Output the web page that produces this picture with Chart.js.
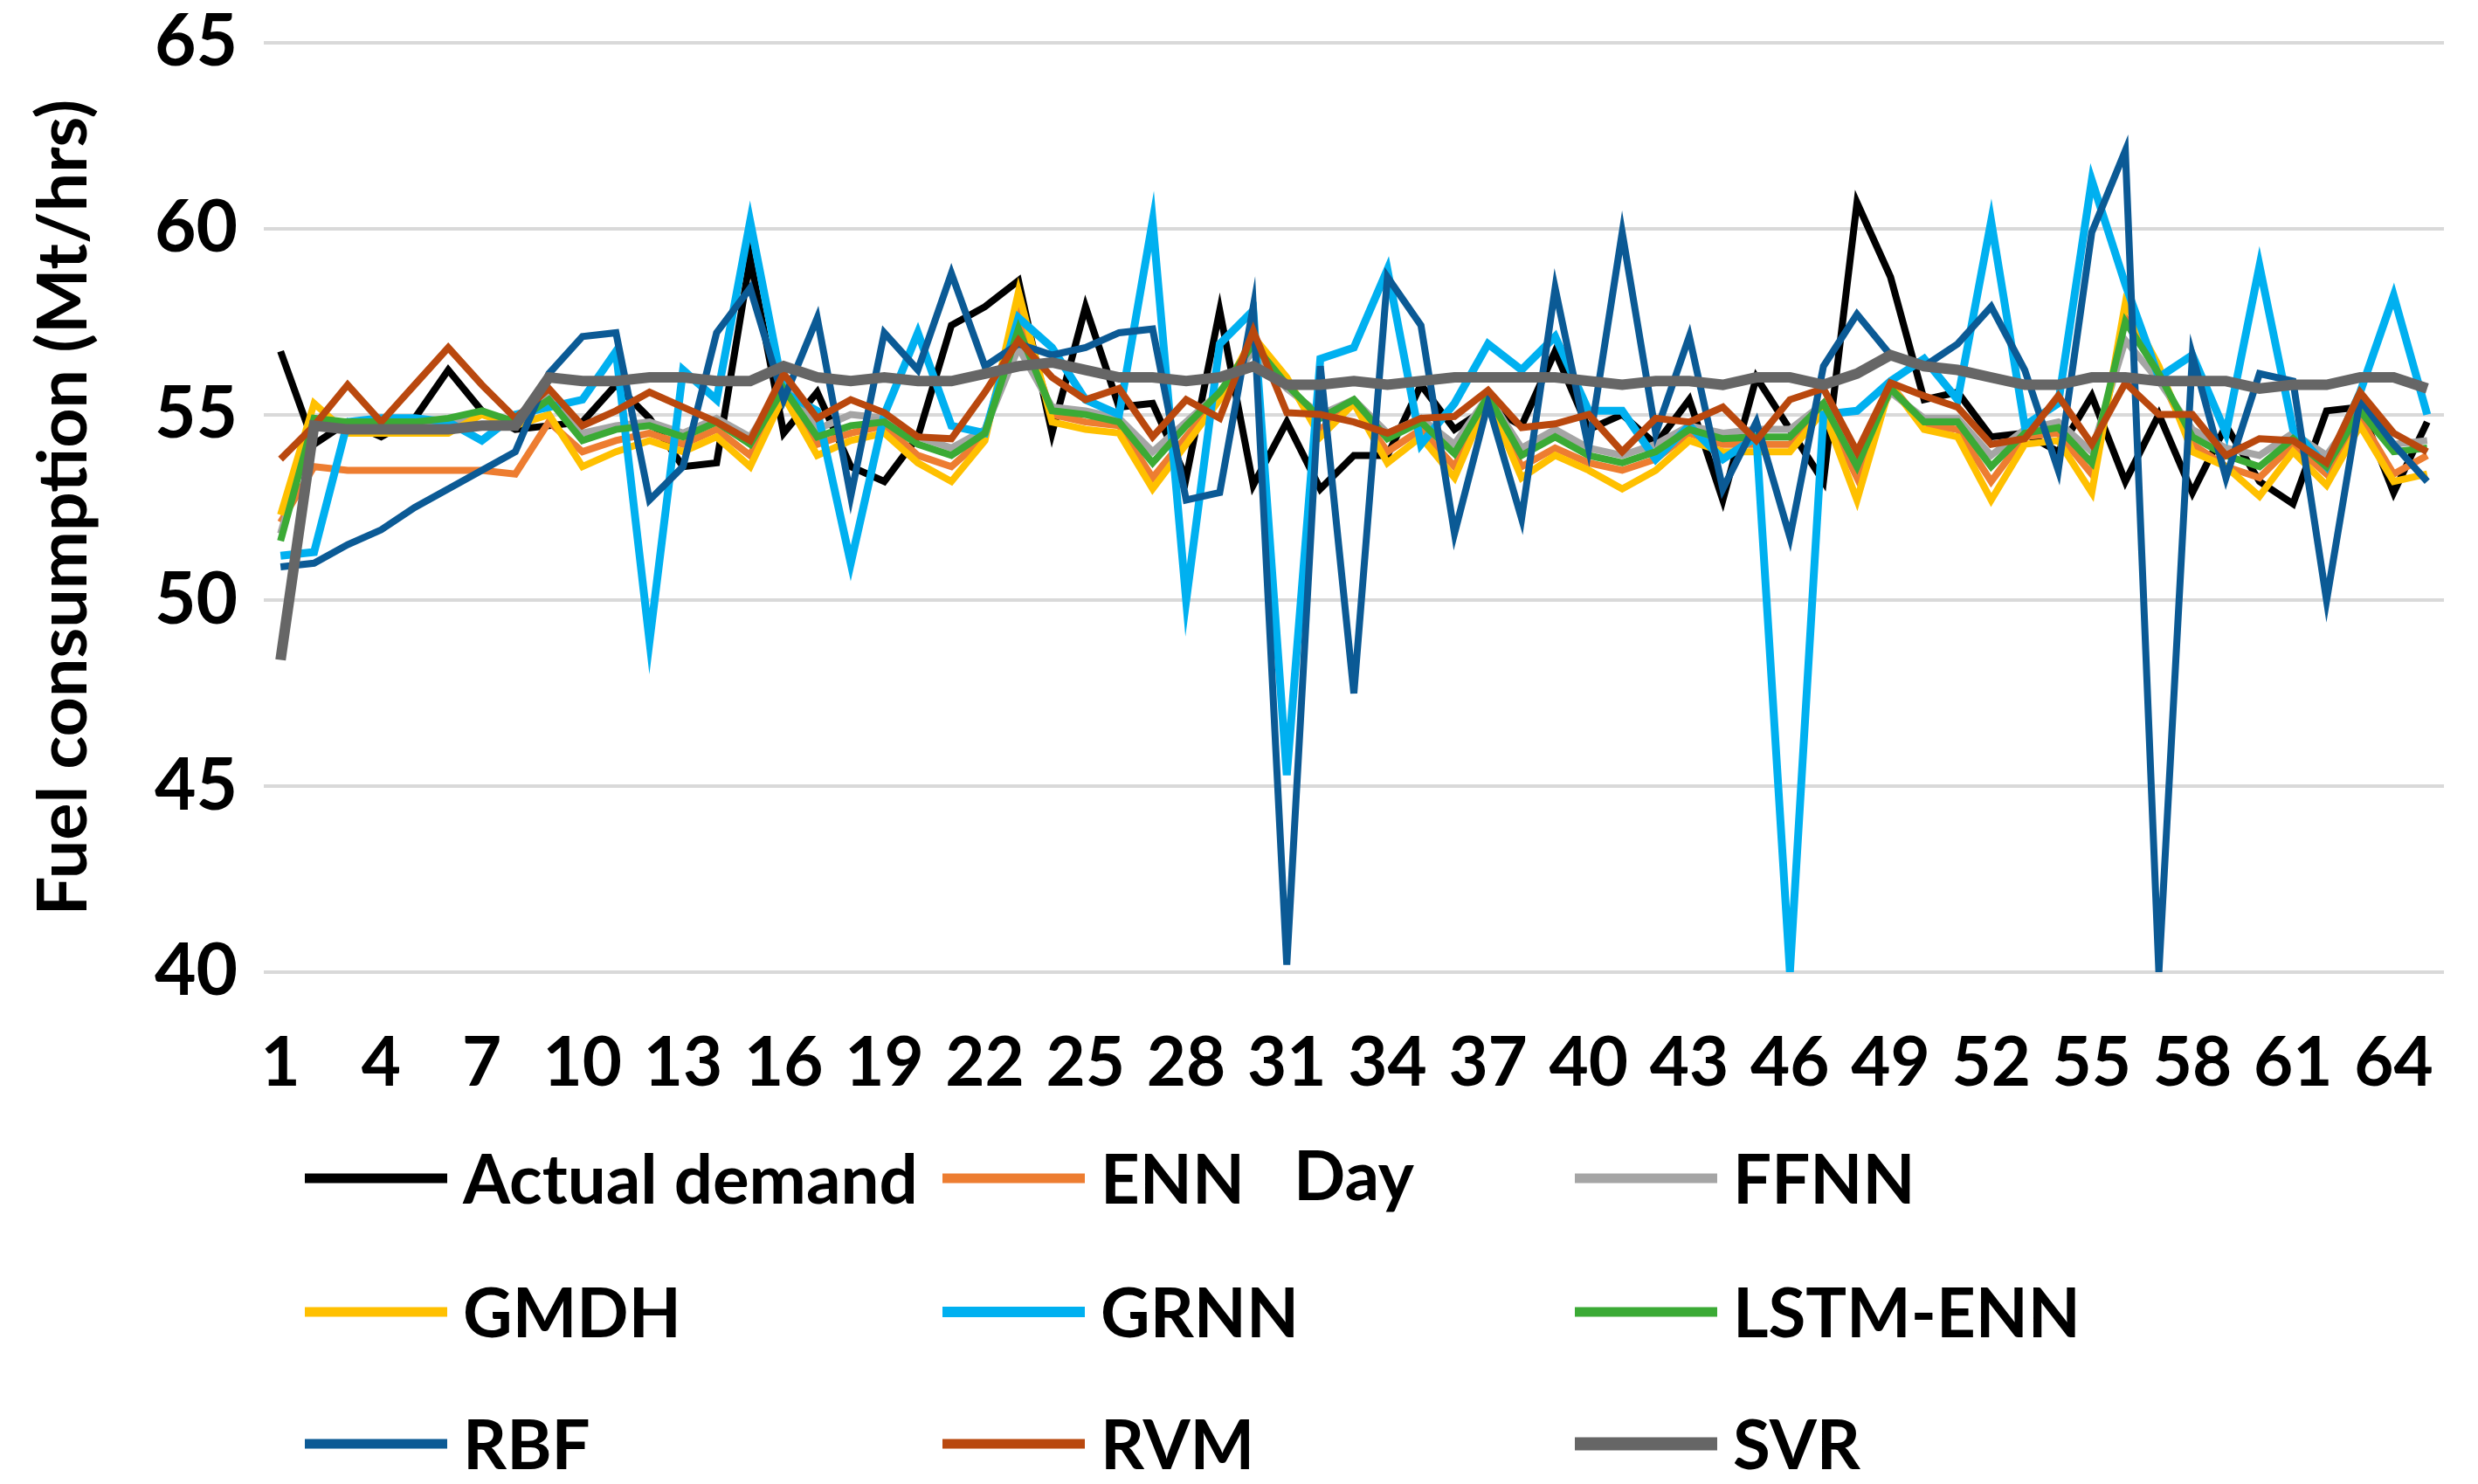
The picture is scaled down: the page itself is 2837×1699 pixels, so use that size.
<!DOCTYPE html>
<html>
<head>
<meta charset="utf-8">
<script src="https://cdn.jsdelivr.net/npm/chart.js@4.4.1/dist/chart.umd.min.js"></script>
<style>
  html, body { margin: 0; padding: 0; background: #fff; }
  #wrap { width: 2837px; height: 1699px; }
</style>
</head>
<body>
<div id="wrap"><canvas id="chart" width="2837" height="1699"></canvas></div>
<script>
/* ── 데이터 ── */
const DAYS = Array.from({ length: 65 }, (_, i) => String(i + 1));

const ACTUAL = [56.7,54.2,54.8,54.4,54.9,56.2,55.1,54.6,54.7,54.8,55.8,54.9,53.6,53.7,59.2,54.5,55.6,53.6,53.2,54.4,
  57.4,57.9,58.6,54.5,57.9,55.2,55.3,53.3,57.8,53.1,54.8,53.0,53.9,53.9,55.8,54.6,55.2,54.7,56.7,54.6,
  55.0,54.2,55.4,52.7,56.0,54.6,53.2,60.7,58.7,55.4,55.6,54.4,54.5,54.0,55.5,53.2,55.0,52.9,54.7,53.2,
  52.6,55.1,55.2,52.9,54.8];
const ENN = [52.1,53.6,53.5,53.5,53.5,53.5,53.5,53.4,54.8,54.0,54.3,54.5,54.2,54.6,53.9,55.8,54.2,54.5,54.7,53.9,
  53.6,54.4,57.8,55.0,54.8,54.7,53.3,54.4,55.5,57.0,55.9,54.6,55.3,54.0,54.6,53.6,55.4,53.6,54.1,53.7,
  53.5,53.8,54.5,54.2,54.2,54.2,55.2,53.3,55.8,54.7,54.6,53.2,54.4,54.5,53.4,57.6,56.1,54.2,53.6,53.3,
  54.2,53.4,54.9,53.4,53.9];
const FFNN = [51.8,54.8,54.7,54.7,54.7,54.8,55.0,54.8,55.5,54.5,54.7,54.8,54.5,54.9,54.4,55.8,54.6,55.0,54.9,54.4,
  54.1,54.6,56.8,55.2,55.1,54.9,54.0,54.8,55.6,56.7,55.7,55.0,55.4,54.5,54.9,54.2,55.5,54.1,54.6,54.1,
  53.9,54.2,54.7,54.5,54.6,54.6,55.3,53.9,55.6,54.9,54.9,53.9,54.6,54.8,54.0,57.0,55.9,54.6,54.1,53.9,
  54.5,53.9,55.2,54.2,54.3];
const GMDH = [52.3,55.3,54.5,54.5,54.5,54.5,55.0,54.7,55.0,53.6,54.0,54.3,54.0,54.4,53.6,55.5,53.9,54.3,54.5,53.7,
  53.2,54.3,58.3,54.8,54.6,54.5,53.0,54.2,55.4,57.1,56.0,54.4,55.3,53.7,54.4,53.3,55.4,53.3,53.9,53.5,
  53.0,53.5,54.3,54.0,54.0,54.0,55.1,52.7,55.8,54.6,54.4,52.7,54.2,54.3,52.9,58.0,56.3,54.0,53.6,52.8,
  54.0,53.1,54.7,53.2,53.4];
const GRNN = [51.2,51.3,54.8,54.9,54.9,54.8,54.3,55.0,55.2,55.4,56.7,48.9,56.2,55.4,60.2,55.6,55.1,51.0,55.0,57.2,
  54.7,54.5,57.6,56.8,55.4,55.0,60.2,50.0,56.9,57.8,45.3,56.5,56.8,58.9,54.2,55.3,56.9,56.2,57.1,55.1,
  55.1,53.8,54.7,53.8,54.4,40.0,55.0,55.1,55.9,56.5,55.4,60.2,54.7,55.3,61.3,58.5,56.0,56.6,54.5,59.0,
  54.6,53.6,55.6,58.2,55.0];
const LSTM = [51.6,54.9,54.8,54.8,54.8,54.9,55.1,54.8,55.4,54.3,54.6,54.7,54.4,54.8,54.2,55.7,54.4,54.7,54.8,54.2,
  53.9,54.5,57.3,55.1,55.0,54.8,53.7,54.7,55.6,56.9,55.8,54.9,55.4,54.35,54.8,53.95,55.5,53.9,54.4,53.9,
  53.7,54.0,54.6,54.35,54.4,54.4,55.3,53.6,55.7,54.8,54.8,53.6,54.5,54.65,53.7,57.5,56.1,54.4,53.9,53.6,
  54.35,53.6,55.1,54.0,54.1];
const RBF = [50.9,51.0,51.5,51.9,52.5,53.0,53.5,54.0,56.1,57.1,57.2,52.7,53.6,57.2,58.4,55.4,57.6,52.8,57.2,56.2,
  58.8,56.3,56.9,56.6,56.8,57.2,57.3,52.7,52.9,57.9,40.2,56.3,47.5,58.7,57.4,51.8,55.3,52.2,58.4,54.1,
  59.9,54.5,57.1,53.0,54.8,51.7,56.3,57.7,56.6,56.3,56.9,57.9,56.2,53.5,59.9,62.1,40.0,56.6,53.3,56.1,
  55.9,50.0,55.4,54.2,53.2];
const RVM = [53.8,54.7,55.8,54.8,55.8,56.8,55.8,54.9,55.7,54.7,55.1,55.6,55.2,54.8,54.3,56.1,54.9,55.4,55.05,54.4,
  54.35,55.6,57.0,56.0,55.4,55.7,54.4,55.4,54.9,57.25,55.05,55.0,54.8,54.5,54.9,54.95,55.65,54.65,54.75,55.0,
  54.0,54.9,54.8,55.2,54.3,55.4,55.7,54.0,55.85,55.5,55.2,54.2,54.35,55.5,54.2,55.85,55.0,55.0,53.9,54.35,
  54.3,53.7,55.6,54.5,54.0];
const SVR = [48.4,54.7,54.6,54.6,54.6,54.6,54.7,54.7,56.0,55.9,55.9,56.0,56.0,55.9,55.9,56.3,56.0,55.9,56.0,55.9,
  55.9,56.1,56.3,56.4,56.2,56.0,56.0,55.9,56.0,56.3,55.8,55.8,55.9,55.8,55.9,56.0,56.0,56.0,56.0,55.9,
  55.8,55.9,55.9,55.8,56.0,56.0,55.8,56.1,56.6,56.3,56.2,56.0,55.8,55.8,56.0,56.0,55.9,55.9,55.9,55.7,
  55.8,55.8,56.0,56.0,55.7];

const Y_TICKS = [40, 45, 50, 55, 60, 65];

/* ── 스타일 ── */
const FONT = 'Lato, "Open Sans", sans-serif';
const GRID = '#D9D9D9';
const SERIES = [
  { label: 'Actual demand', data: ACTUAL, color: '#000000', w: 8 },
  { label: 'ENN',           data: ENN,    color: '#ED7D31', w: 8 },
  { label: 'FFNN',          data: FFNN,   color: '#A5A5A5', w: 8 },
  { label: 'GMDH',          data: GMDH,   color: '#FFC000', w: 8 },
  { label: 'GRNN',          data: GRNN,   color: '#00B0F0', w: 9 },
  { label: 'LSTM-ENN',      data: LSTM,   color: '#3BAA35', w: 8 },
  { label: 'RBF',           data: RBF,    color: '#0B5A95', w: 8 },
  { label: 'RVM',           data: RVM,    color: '#B9480E', w: 8 },
  { label: 'SVR',           data: SVR,    color: '#666666', w: 12 }
];

/* ── 범례: 3열 격자 ── */
const legendGrid = {
  id: 'legendGrid',
  afterDraw(chart){
    const ctx = chart.ctx;
    const rows = [1349, 1502, 1653];
    const cols = [349, 1079, 1803];
    ctx.save();
    ctx.font = 'bold 78px ' + FONT;
    ctx.textBaseline = 'middle';
    ctx.textAlign = 'left';
    chart.data.datasets.forEach((ds, i) => {
      const y = rows[Math.floor(i / 3)];
      const x = cols[i % 3];
      ctx.strokeStyle = ds.borderColor;
      ctx.lineWidth = ds.borderWidth + 3;
      ctx.lineCap = 'butt';
      ctx.beginPath();
      ctx.moveTo(x, y);
      ctx.lineTo(x + 163, y);
      ctx.stroke();
      ctx.fillStyle = '#000';
      ctx.fillText(ds.label, x + 181, y + 4);
    });
    ctx.restore();
  }
};

new Chart(document.getElementById('chart'), {
  type: 'line',
  data: {
    labels: DAYS,
    datasets: SERIES.map((s, i) => ({
      label: s.label,
      data: s.data,
      borderColor: s.color,
      backgroundColor: s.color,
      borderWidth: s.w,
      pointRadius: 0,
      tension: 0,
      fill: false,
      order: SERIES.length - 1 - i
    }))
  },
  options: {
    responsive: false,
    devicePixelRatio: 1,
    animation: false,
    layout: { padding: { top: 49, right: 21, bottom: 0, left: 0 } },
    plugins: {
      legend: { display: false },
      tooltip: { enabled: false }
    },
    scales: {
      x: {
        offset: true,
        grid: { display: false, drawTicks: false },
        border: { display: false },
        ticks: {
          autoSkip: false,
          maxRotation: 0,
          padding: 58,
          color: '#000',
          font: { family: FONT, size: 78, weight: 'bold' },
          callback: (v, i) => (i % 3 === 0 ? DAYS[i] : '')
        },
        title: {
          display: true,
          text: 'Day',
          color: '#000',
          font: { family: FONT, size: 78, weight: 'bold' },
          padding: { top: 0, bottom: 303 }
        },
        afterFit: s => { s.height = 586; }
      },
      y: {
        min: 40,
        max: 65,
        afterBuildTicks: s => { s.ticks = Y_TICKS.map(v => ({ value: v })); },
        grid: { color: GRID, lineWidth: 4, drawTicks: false },
        border: { display: false },
        ticks: {
          padding: 30,
          color: '#000',
          font: { family: FONT, size: 82, weight: 'bold' }
        },
        title: {
          display: true,
          text: 'Fuel consumption (Mt/hrs)',
          color: '#000',
          font: { family: FONT, size: 79, weight: 'bold' },
          padding: { top: 26, bottom: 0 }
        },
        afterFit: s => { s.width = 302; s.paddingTop = 0; s.paddingBottom = 0; }
      }
    }
  },
  plugins: [legendGrid]
});
</script>
</body>
</html>
